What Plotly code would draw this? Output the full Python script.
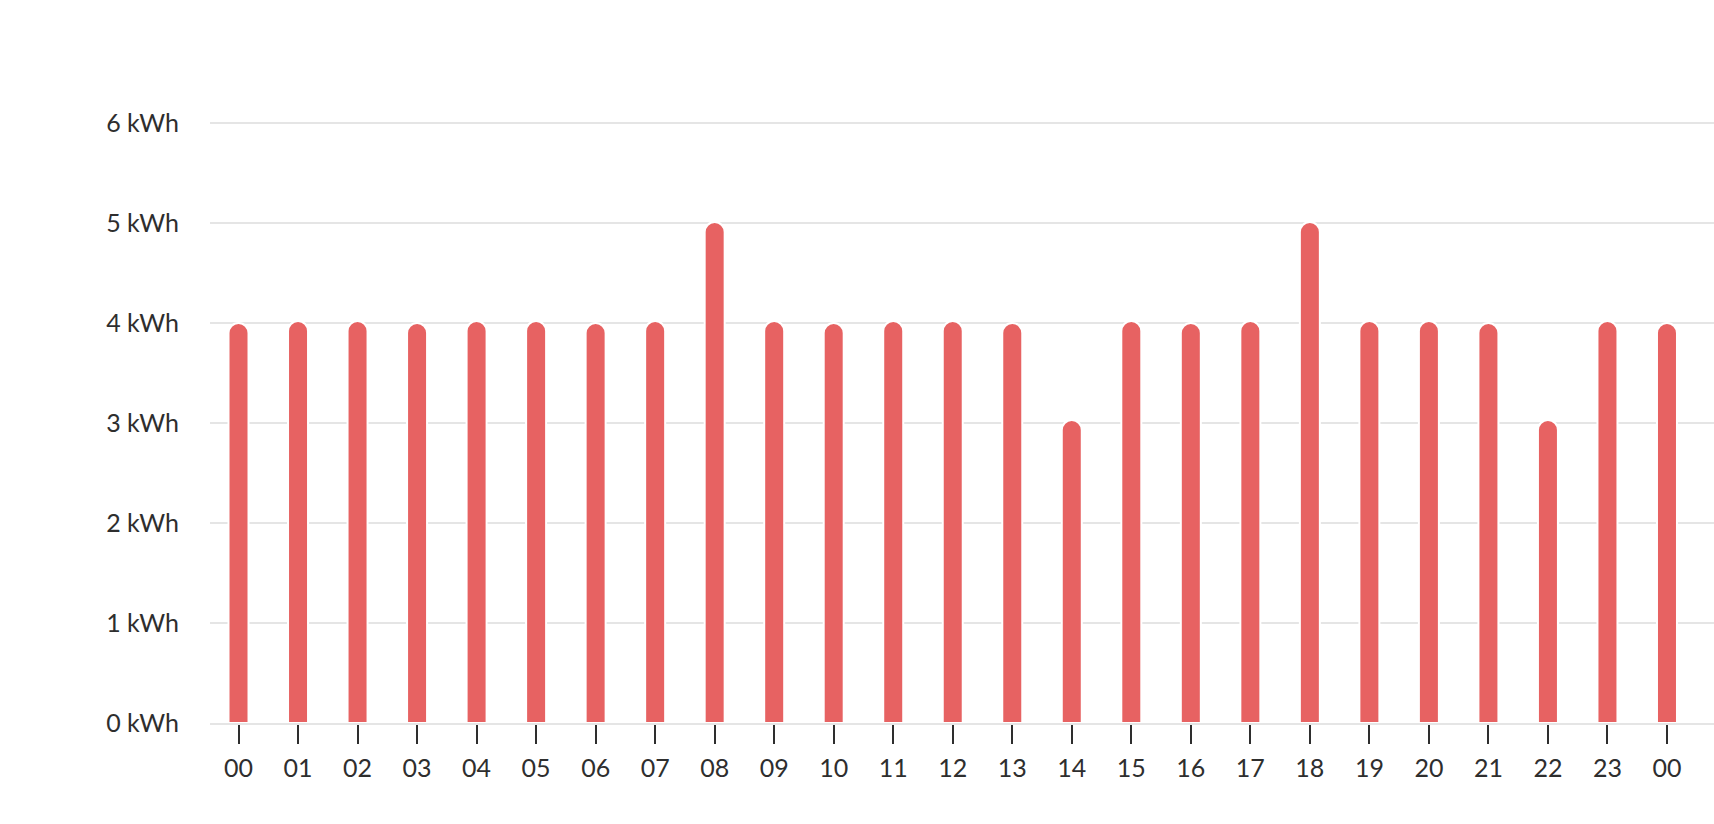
import plotly.graph_objects as go

hours = ["00", "01", "02", "03", "04", "05", "06", "07", "08", "09", "10", "11",
         "12", "13", "14", "15", "16", "17", "18", "19", "20", "21", "22", "23", "00"]
energy_kwh = [4.00, 4.02, 4.02, 4.00, 4.02, 4.02, 4.00, 4.02, 5.01, 4.02, 4.00, 4.02,
              4.02, 4.00, 3.03, 4.02, 4.00, 4.02, 5.01, 4.02, 4.02, 4.00, 3.03, 4.02, 4.00]
y_ticks = [0, 1, 2, 3, 4, 5, 6]
y_tick_labels = ["0 kWh", "1 kWh", "2 kWh", "3 kWh", "4 kWh", "5 kWh", "6 kWh"]

positions = list(range(len(hours)))

font_family = "Lato, 'Open Sans', sans-serif"
text_color = "#2e2e2e"
grid_color = "#e5e5e5"

fig = go.Figure(
    go.Bar(
        x=positions,
        y=energy_kwh,
        width=0.336,
        marker=dict(color="#e76262", cornerradius="50%",
                    line=dict(color="white", width=2)),
        hoverinfo="skip",
    )
)

fig.update_layout(
    width=1714,
    height=824,
    margin=dict(l=210, r=0, t=118, b=101, autoexpand=False),
    paper_bgcolor="white",
    plot_bgcolor="white",
    showlegend=False,
    font=dict(family=font_family, size=25, color=text_color),
    xaxis=dict(
        range=[-0.479, 24.79],
        tickmode="array",
        tickvals=positions,
        ticktext=hours,
        showgrid=False,
        zeroline=False,
        showline=True,
        linecolor=grid_color,
        linewidth=2,
        ticks="outside",
        ticklen=19,
        tickwidth=2,
        tickcolor=text_color,
        ticklabelstandoff=3,
        layer="above traces",
        automargin=False,
        fixedrange=True,
    ),
    yaxis=dict(
        range=[0, 6.05],
        tickmode="array",
        tickvals=y_ticks,
        ticktext=y_tick_labels,
        showgrid=True,
        gridcolor=grid_color,
        gridwidth=2,
        zeroline=False,
        showline=False,
        ticks="",
        ticklabelstandoff=30,
        automargin=False,
        fixedrange=True,
    ),
)

fig.write_html(
    "out.html",
    config={"displayModeBar": False},
    post_script="document.body.style.margin='0';document.body.style.overflow='hidden';",
)
